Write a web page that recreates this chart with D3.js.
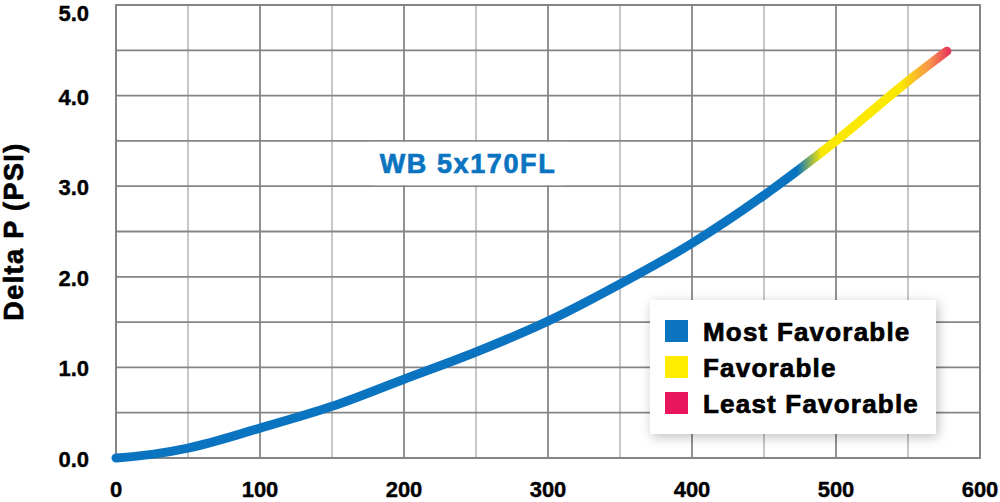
<!DOCTYPE html>
<html>
<head>
<meta charset="utf-8">
<script src="https://cdn.jsdelivr.net/npm/d3@7"></script>
<style>
  body { margin: 0; background: #fff; }
  svg { display: block; font-family: "Liberation Sans", Arial, Helvetica, sans-serif; }
  text.heavy { stroke-width: 0.7px; }
  text.tick { stroke: #000; stroke-width: 0.4px; }
</style>
</head>
<body>
<svg id="chart"></svg>
<script>
// Flow (x) vs Delta P (PSI)
const flowValues = [0, 25, 50, 100, 150, 200, 250, 300, 350, 400, 450, 500, 550, 577];
const deltaPValues = [0, 0.04, 0.11, 0.33, 0.57, 0.87, 1.17, 1.51, 1.92, 2.37, 2.90, 3.50, 4.16, 4.49];
const xTicks = [0, 100, 200, 300, 400, 500, 600];
const yTicks = [0, 1, 2, 3, 4, 5];
const seriesLabel = "WB 5x170FL";
const legendLabels = ["Most Favorable", "Favorable", "Least Favorable"];
const legendColors = ["#0a74c0", "#ffec00", "#e8175d"];
// where the line colour changes along x
const gradientStops = [
  { x: 0, color: "#0a74c0" },
  { x: 473, color: "#0a74c0" },
  { x: 490, color: "#fbe800" },
  { x: 545, color: "#fbe800" },
  { x: 565, color: "#f7944c" },
  { x: 578, color: "#e83a5c" }
];

const width = 1000, height = 502;
const margin = { left: 116, right: 20, top: 5, bottom: 44 };

const svg = d3.select("#chart").attr("width", width).attr("height", height);

const x = d3.scaleLinear().domain([0, 600]).range([margin.left, width - margin.right]);
const y = d3.scaleLinear().domain([0, 5]).range([height - margin.bottom, margin.top]);

// grid
const grid = svg.append("g");
grid.selectAll(".vminor").data(d3.range(50, 600, 100)).enter().append("line")
  .attr("x1", d => x(d)).attr("x2", d => x(d))
  .attr("y1", y(0)).attr("y2", y(5))
  .attr("stroke", "#b4b4b4").attr("stroke-width", 1.5);
grid.selectAll(".vmajor").data(d3.range(100, 600, 100)).enter().append("line")
  .attr("x1", d => x(d)).attr("x2", d => x(d))
  .attr("y1", y(0)).attr("y2", y(5))
  .attr("stroke", "#858585").attr("stroke-width", 1.8);
grid.selectAll(".h").data(d3.range(0.5, 5, 0.5)).enter().append("line")
  .attr("x1", x(0)).attr("x2", x(600))
  .attr("y1", d => y(d)).attr("y2", d => y(d))
  .attr("stroke", "#858585").attr("stroke-width", 1.8);
// frame
svg.append("rect")
  .attr("x", x(0)).attr("y", y(5))
  .attr("width", x(600) - x(0)).attr("height", y(0) - y(5))
  .attr("fill", "none").attr("stroke", "#858585").attr("stroke-width", 2);

// series label with white box behind
svg.append("rect")
  .attr("x", x(178)).attr("y", y(3.5) + 1)
  .attr("width", x(312) - x(178)).attr("height", y(3.0) - y(3.5) - 2)
  .attr("fill", "#fff");
svg.append("text")
  .attr("class", "heavy")
  .attr("x", 468).attr("y", 173)
  .attr("text-anchor", "middle")
  .attr("fill", "#0a74c0").attr("stroke", "#0a74c0")
  .attr("font-size", 27).attr("font-weight", "bold")
  .attr("letter-spacing", 1.6)
  .text(seriesLabel);

// tick labels
svg.append("g").selectAll("text").data(yTicks).enter().append("text")
  .attr("class", "tick")
  .attr("x", 89).attr("y", d => Math.max(y(d) + 9, 21))
  .attr("text-anchor", "end")
  .attr("font-size", 22).attr("font-weight", "bold")
  .text(d => d.toFixed(1));
svg.append("g").selectAll("text").data(xTicks).enter().append("text")
  .attr("class", "tick")
  .attr("x", d => x(d)).attr("y", 497)
  .attr("text-anchor", "middle")
  .attr("font-size", 22).attr("font-weight", "bold")
  .text(d => d);

// y axis title
svg.append("text")
  .attr("class", "heavy")
  .attr("transform", `translate(23, ${(y(0) + y(5)) / 2}) rotate(-90)`)
  .attr("text-anchor", "middle")
  .attr("stroke", "#000")
  .attr("font-size", 27).attr("font-weight", "bold")
  .attr("letter-spacing", 1.4)
  .text("Delta P (PSI)");

// gradient for the curve
const defs = svg.append("defs");
const grad = defs.append("linearGradient")
  .attr("id", "lineGrad")
  .attr("gradientUnits", "userSpaceOnUse")
  .attr("x1", x(0)).attr("x2", x(600)).attr("y1", 0).attr("y2", 0);
grad.selectAll("stop").data(gradientStops).enter().append("stop")
  .attr("offset", d => d.x / 600)
  .attr("stop-color", d => d.color);

const filter = defs.append("filter").attr("id", "shadow")
  .attr("x", "-10%").attr("y", "-20%").attr("width", "120%").attr("height", "140%");
filter.append("feDropShadow")
  .attr("dx", 2).attr("dy", 3).attr("stdDeviation", 6)
  .attr("flood-color", "#000").attr("flood-opacity", 0.25);

// curve
const line = d3.line()
  .x((d, i) => x(flowValues[i]))
  .y(d => y(d))
  .curve(d3.curveMonotoneX);
svg.append("path")
  .datum(deltaPValues)
  .attr("d", line)
  .attr("fill", "none")
  .attr("stroke", "url(#lineGrad)")
  .attr("stroke-width", 9)
  .attr("stroke-linecap", "round");

// legend
const legend = svg.append("g").attr("transform", "translate(650, 300)");
legend.append("rect")
  .attr("width", 286).attr("height", 134)
  .attr("fill", "#fff")
  .attr("filter", "url(#shadow)");
const items = legend.selectAll(".item").data(legendLabels).enter().append("g")
  .attr("transform", (d, i) => `translate(15, ${31 + i * 36})`);
items.append("rect")
  .attr("y", -11).attr("width", 23).attr("height", 22)
  .attr("fill", (d, i) => legendColors[i]);
items.append("text")
  .attr("class", "heavy")
  .attr("x", 38).attr("y", 10)
  .attr("stroke", "#000")
  .attr("font-size", 26).attr("font-weight", "bold")
  .attr("letter-spacing", 1.2)
  .text(d => d);
</script>
</body>
</html>
